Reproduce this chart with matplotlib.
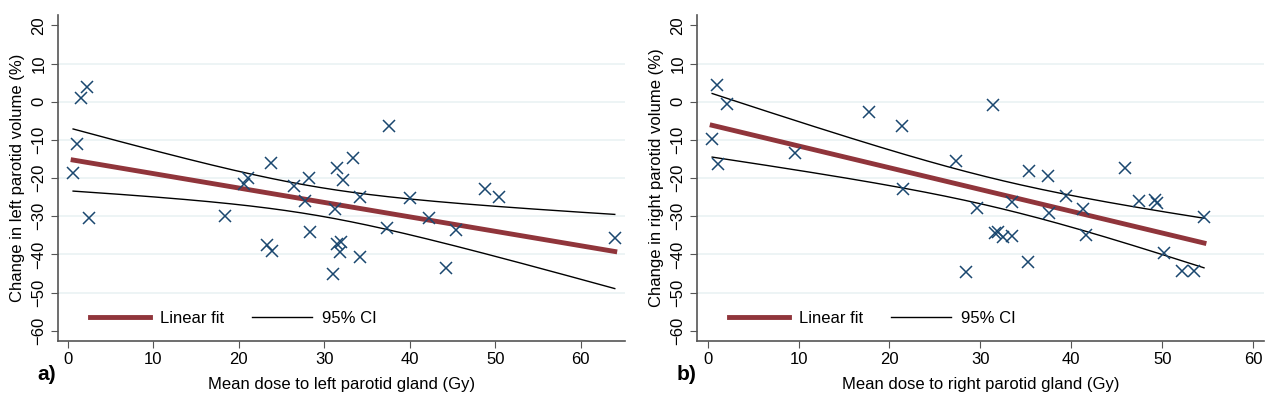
import numpy as np
import matplotlib.pyplot as plt

plt.rcParams['font.family'] = ['Liberation Sans', 'DejaVu Sans']

# Left parotid: mean dose (Gy) vs change in volume (%)
left_dose = [0.6, 1.1, 1.5, 2.25, 2.5, 18.4, 20.6, 21.1, 23.8, 23.3, 23.9, 26.4, 28.2,
             27.7, 28.3, 31.0, 31.45, 31.3, 31.45, 31.9, 31.8, 32.2, 33.4, 34.2, 34.2,
             37.6, 37.3, 40.0, 42.2, 44.3, 45.4, 48.8, 50.4, 64.0]
left_change = [-18.6, -11.1, 1.0, 3.8, -30.5, -29.8, -21.5, -19.9, -16.1, -37.5, -39.0,
               -22.1, -19.9, -26.0, -34.2, -45.2, -17.3, -28.1, -37.3, -36.8, -39.4,
               -20.5, -14.8, -24.9, -40.7, -6.4, -33.1, -25.1, -30.5, -43.6, -33.6,
               -22.9, -24.9, -35.8]

# Right parotid
right_dose = [0.5, 1.0, 1.15, 2.1, 9.6, 17.8, 21.4, 21.5, 27.3, 28.4, 29.6, 31.4, 31.6,
              31.9, 32.5, 33.5, 33.5, 35.2, 35.4, 37.4, 37.6, 39.4, 41.3, 41.6, 45.9,
              47.5, 49.2, 49.4, 50.2, 52.2, 53.5, 54.6]
right_change = [-9.8, 4.5, -16.3, -0.7, -13.3, -2.8, -6.4, -22.9, -15.5, -44.7, -27.7,
                -0.9, -34.5, -34.2, -35.3, -35.2, -26.3, -41.9, -18.1, -19.5, -29.2,
                -24.7, -28.1, -34.9, -17.4, -26.0, -25.7, -26.6, -39.7, -44.2, -44.2,
                -30.1]

y_ticks = [20, 10, 0, -10, -20, -30, -40, -50, -60]
grid_vals = [10, 0, -10, -20, -30, -40, -50]
x_ticks = [0, 10, 20, 30, 40, 50, 60]

navy = '#1a476f'
maroon = '#90353b'
grey = '#555555'


def fit_ci(x, y, t_crit):
    x = np.asarray(x)
    y = np.asarray(y)
    n = len(x)
    b, a = np.polyfit(x, y, 1)
    resid = y - (a + b * x)
    s = np.sqrt(np.sum(resid ** 2) / (n - 2))
    sxx = np.sum((x - x.mean()) ** 2)
    xs = np.linspace(x.min(), x.max(), 200)
    yhat = a + b * xs
    se = s * np.sqrt(1 / n + (xs - x.mean()) ** 2 / sxx)
    return xs, yhat, yhat - t_crit * se, yhat + t_crit * se


def panel(ax, x, y, t_crit, xmax, xlabel, ylabel):
    xs, yhat, lo, hi = fit_ci(x, y, t_crit)
    for g in grid_vals:
        ax.axhline(g, color='#eaf2f3', lw=1.2, zorder=0)
    ax.plot(xs, yhat, color=maroon, lw=3.5, label='Linear fit', zorder=2)
    ax.plot(xs, hi, color='black', lw=1, label='95% CI', zorder=2)
    ax.plot(xs, lo, color='black', lw=1, zorder=2)
    ax.plot(x, y, 'x', color=navy, ms=8, mew=1.1, zorder=3)
    ax.set_xlim(-1.2, xmax)
    ax.set_ylim(-62.6, 22.7)
    ax.set_xticks(x_ticks)
    ax.set_yticks(y_ticks)
    ax.tick_params(axis='y', labelrotation=90, length=5, color=grey, labelsize=12, pad=3)
    ax.tick_params(axis='x', length=5, color=grey, labelsize=12, pad=3)
    for lab in ax.get_yticklabels():
        lab.set_va('center')
    for sp in ['top', 'right']:
        ax.spines[sp].set_visible(False)
    for sp in ['left', 'bottom']:
        ax.spines[sp].set_color(grey)
        ax.spines[sp].set_linewidth(1.2)
    ax.set_xlabel(xlabel, fontsize=12, labelpad=7)
    ax.set_ylabel(ylabel, fontsize=12, labelpad=5)
    ax.legend(loc='lower left', bbox_to_anchor=(0.03, 0.0), ncol=2, frameon=False,
              fontsize=12, handlelength=3.6, columnspacing=1.7, handletextpad=0.6)


fig = plt.figure(figsize=(12.8, 3.99), dpi=100, facecolor='white')
ax1 = fig.add_axes([0.0451, 0.146, 0.4432, 0.816])
ax2 = fig.add_axes([0.5443, 0.146, 0.4432, 0.816])

panel(ax1, left_dose, left_change, 2.0369, 65.2,
      'Mean dose to left parotid gland (Gy)', 'Change in left parotid volume (%)')
panel(ax2, right_dose, right_change, 2.0395, 61.2,
      'Mean dose to right parotid gland (Gy)', 'Change in right parotid volume (%)')

fig.text(37 / 1280, 1 - 374 / 399, 'a)', fontsize=15, fontweight='bold', va='center', ha='left')
fig.text(677 / 1280, 1 - 374 / 399, 'b)', fontsize=15, fontweight='bold', va='center', ha='left')

fig.savefig('out.png', dpi=100)
